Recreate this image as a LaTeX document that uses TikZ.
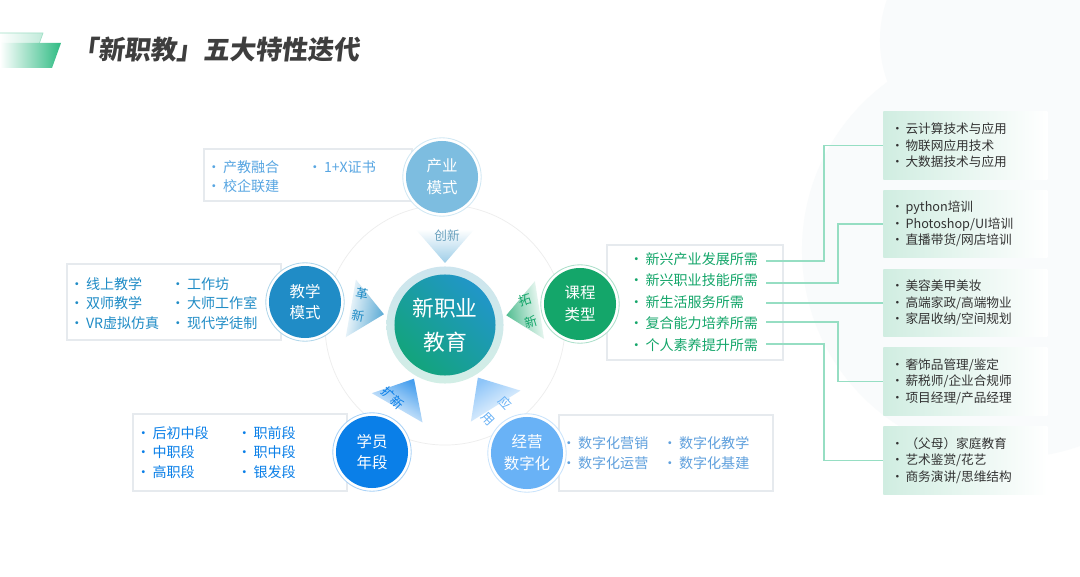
\documentclass[tikz,border=0pt]{standalone}
\usepackage{fontspec}
\setmainfont{Noto Sans CJK SC}
\newfontfamily\titlefont[FakeSlant=0.12]{Noto Sans CJK SC}
\usetikzlibrary{positioning, calc}
\definecolor{indublue}{RGB}{125, 189, 224}
\definecolor{indutext}{RGB}{88, 166, 226}
\definecolor{teachblue}{RGB}{32, 140, 198}
\definecolor{coursegreen}{RGB}{20, 166, 106}
\definecolor{studentblue}{RGB}{10, 127, 232}
\definecolor{bizblue}{RGB}{105, 178, 246}
\definecolor{corecyan}{RGB}{33, 150, 200}
\definecolor{coregreen}{RGB}{19, 164, 124}
\definecolor{ringcyan}{RGB}{205, 229, 238}
\definecolor{ringmint}{RGB}{210, 238, 230}
\definecolor{linkmint}{RGB}{150, 222, 195}
\definecolor{tagmint}{RGB}{208, 237, 225}
\definecolor{boxgray}{RGB}{230, 234, 238}
\definecolor{titlegray}{RGB}{62, 62, 62}
\definecolor{textgray}{RGB}{50, 50, 50}
\definecolor{logogreen}{RGB}{46, 187, 131}
\definecolor{bgfaint}{RGB}{249, 251, 252}
\newcommand{\itm}{\makebox[0.8em][c]{•}\hspace{0.25em}}

\begin{document}
\begin{tikzpicture}[
    x=0.025cm, y=-0.025cm,
    base/.style={anchor=west, inner sep=0pt, align=left, font=\fontsize{10pt}{13.8pt}\selectfont},
    listbox/.style={draw=boxgray, line width=0.8pt, fill=white, inner sep=0pt},
    topic/.style={circle, fill=#1, text=white, minimum size=1.8cm, inner sep=0pt, align=center, font=\fontsize{11pt}{15.5pt}\selectfont},
    halo/.style={draw=#1!35, line width=0.6pt, fill=white},
    cue/.style={inner sep=0pt, align=center, font=\fontsize{9pt}{16pt}\selectfont},
    tagbox/.style={anchor=west, left color=tagmint, right color=white, text=textgray, inner xsep=0.225cm, inner ysep=0pt, text width=3.65cm, minimum height=1.675cm, align=left, font=\fontsize{9pt}{11.7pt}\selectfont},
    link/.style={draw=linkmint, line width=0.9pt}
]
    \useasboundingbox (0, 0) rectangle (1080, 577);
    \fill[white] (0, 0) rectangle (1080, 577);

    % --- BACKGROUND ---
    \fill[bgfaint] (1010, 250) circle (5.2cm);
    \fill[bgfaint] (1000, 40) circle (3cm);

    % --- TITLE ---
    \shadedraw[left color=white, right color=logogreen!30, draw=logogreen!45, line width=0.5pt] (0, 33) -- (43, 33) -- (38, 47) -- (0, 47);
    \shade[left color=white, right color=logogreen] (0, 43) -- (61, 43) -- (52, 68) -- (0, 68) -- cycle;
    \node[anchor=west, inner sep=0pt, text=titlegray, font=\titlefont\bfseries\fontsize{18.6pt}{20pt}\selectfont] (title) at (72, 50) {「新职教」五大特性迭代};

    % --- CORE ---
    \coordinate (core) at (445, 325);
    \draw[black!7, line width=0.5pt] (core) circle (3cm);

    % --- LIST BOXES ---
    \node[listbox, minimum width=5.2cm, minimum height=1.3cm] (induBox) at (308, 175) {};
    \node[listbox, minimum width=5.35cm, minimum height=1.9cm] (teachBox) at (174, 302) {};
    \node[listbox, minimum width=5.35cm, minimum height=1.925cm] (studentBox) at (240, 452.5) {};
    \node[listbox, minimum width=5.35cm, minimum height=1.9cm] (bizBox) at (666, 453) {};
    \node[listbox, minimum width=4.4cm, minimum height=2.875cm] (courseBox) at (695, 302.5) {};

    % --- TOPIC CIRCLES ---
    \coordinate (induC) at (442, 177);
    \coordinate (teachC) at (305, 302);
    \coordinate (courseC) at (580, 304);
    \coordinate (studentC) at (372, 452);
    \coordinate (bizC) at (527, 453);
    \draw[halo=indublue] (induC) circle (0.98cm);
    \draw[halo=teachblue] (teachC) circle (0.98cm);
    \draw[halo=coursegreen] (courseC) circle (0.98cm);
    \draw[halo=studentblue] (studentC) circle (0.98cm);
    \draw[halo=bizblue] (bizC) circle (0.98cm);
    \node[topic=indublue] (indu) at (induC) {产业\\模式};
    \node[topic=teachblue] (teach) at (teachC) {教学\\模式};
    \node[topic=coursegreen] (course) at (courseC) {课程\\类型};
    \node[topic=studentblue] (student) at (studentC) {学员\\年段};
    \node[topic=bizblue] (biz) at (bizC) {经营\\数字化};

    % --- WEDGES ---
    \foreach \ang/\col in {90/indublue, 170/teachblue, 9/coursegreen, 240/studentblue, 302/bizblue} {
        \pgfmathsetmacro{\shang}{\ang+90}
        \shade[top color=\col!75, bottom color=white, shading angle=\shang]
            ($(core)+(\ang:1.55cm)$) -- ($(core)+(\ang-17:2.5cm)$) -- ($(core)+(\ang+17:2.5cm)$) -- cycle;
    }
    \node[cue, text=indublue!85!black] (cueIndu) at (447, 236) {创新};
    \node[cue, text=teachblue, rotate=-10] (cueTeach) at (360, 305) {革\\新};
    \node[cue, text=coursegreen, rotate=17] (cueCourse) at (528, 311) {拓\\新};
    \node[cue, text=studentblue, rotate=-45] (cueStudent) at (393, 398) {扩新};
    \node[cue, text=bizblue, rotate=-47] (cueBiz) at (497, 411) {应\\用};

    \node[circle, minimum size=2.925cm, top color=ringcyan, bottom color=ringmint] (coreRing) at (core) {};
    \node[circle, minimum size=2.525cm, inner sep=0pt, top color=corecyan, bottom color=coregreen, shading angle=-45, text=white, align=center, font=\fontsize{15.5pt}{24pt}\selectfont] (coreText) at (core) {新职业\\教育};

    % --- LIST TEXTS ---
    \node[base, text=indutext] (induA) at (208, 176.5) {\itm 产教融合\\\itm 校企联建};
    \node[base, text=indutext] (induB) at (309, 167) {\itm 1+X证书};
    \node[base, text=teachblue] (teachA) at (71, 303.5) {\itm 线上教学\\\itm 双师教学\\\itm VR虚拟仿真};
    \node[base, text=teachblue] (teachB) at (172, 303.5) {\itm 工作坊\\\itm 大师工作室\\\itm 现代学徒制};
    \node[base, text=studentblue] (studentA) at (137.5, 452.5) {\itm 后初中段\\\itm 中职段\\\itm 高职段};
    \node[base, text=studentblue] (studentB) at (238.5, 452.5) {\itm 职前段\\\itm 职中段\\\itm 银发段};
    \node[base, text=bizblue!90!black, font=\fontsize{10pt}{14.2pt}\selectfont] (bizA) at (563, 453) {\itm 数字化营销\\\itm 数字化运营};
    \node[base, text=bizblue!90!black, font=\fontsize{10pt}{14.2pt}\selectfont] (bizB) at (664, 453) {\itm 数字化教学\\\itm 数字化基建};
    \node[base, text=coursegreen, font=\fontsize{10pt}{15.3pt}\selectfont] (courseA) at (630.5, 302) {\itm 新兴产业发展所需\\\itm 新兴职业技能所需\\\itm 新生活服务所需\\\itm 复合能力培养所需\\\itm 个人素养提升所需};

    % --- TAG BOXES ---
    \node[tagbox] (tagA) at (883, 145.5) {\itm 云计算技术与应用\\\itm 物联网应用技术\\\itm 大数据技术与应用};
    \node[tagbox] (tagB) at (883, 224) {\itm python培训\\\itm Photoshop/UI培训\\\itm 直播带货/网店培训};
    \node[tagbox] (tagC) at (883, 303) {\itm 美容美甲美妆\\\itm 高端家政/高端物业\\\itm 家居收纳/空间规划};
    \node[tagbox] (tagD) at (883, 381.5) {\itm 奢饰品管理/鉴定\\\itm 薪税师/企业合规师\\\itm 项目经理/产品经理};
    \node[tagbox] (tagE) at (883, 460.5) {\itm （父母）家庭教育\\\itm 艺术鉴赏/花艺\\\itm 商务演讲/思维结构};

    % --- LINKS ---
    \coordinate (linkA) at (766, 261);
    \coordinate (linkB) at (766, 283);
    \coordinate (linkC) at (766, 303);
    \coordinate (linkD) at (766, 322);
    \coordinate (linkE) at (766, 344);
    \draw[link] (linkA) -- ++(58, 0) |- (tagA.west);
    \draw[link] (linkB) -- ++(72, 0) |- (tagB.west);
    \draw[link] (linkC) -- (tagC.west);
    \draw[link] (linkD) -- ++(72, 0) |- (tagD.west);
    \draw[link] (linkE) -- ++(58, 0) |- (tagE.west);

\end{tikzpicture}
\end{document}
